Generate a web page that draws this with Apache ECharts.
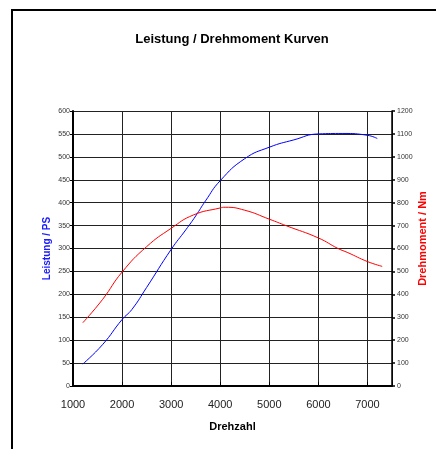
<!DOCTYPE html>
<html>
<head>
<meta charset="utf-8">
<script src="https://cdn.jsdelivr.net/npm/echarts@6/dist/echarts.min.js"></script>
<style>
  html, body { margin: 0; padding: 0; background: #fff; }
  #main { width: 436px; height: 449px; }
</style>
</head>
<body>
<div id="main"></div>
<script>
// Drehzahl (rpm) und Werte
var rpmPower = [1200, 1600, 2000, 2200, 2500, 3000, 3300, 3500, 3700, 4000, 4500, 5000, 5500, 6000, 6500, 7000, 7200];
var powerPS = [48, 90, 145, 167, 215, 298, 341, 371, 404, 448, 496, 521, 537, 550, 551, 547, 540];
var rpmTorque = [1200, 1600, 2000, 2500, 3000, 3450, 4000, 4100, 4500, 5000, 5350, 6000, 6400, 6600, 7000, 7300];
var torqueNm = [276, 377, 497, 608, 688, 746, 777, 780, 767, 728, 699, 646, 600, 582, 543, 522];
var xTicks = [1000, 2000, 3000, 4000, 5000, 6000, 7000];

function pairs(xs, ys) {
  return xs.map(function (x, i) { return [x, ys[i]]; });
}

var myChart = echarts.init(document.getElementById('main'));
var font = 'Liberation Sans, Arial, sans-serif';

var option = {
  animation: false,
  backgroundColor: '#fff',
  textStyle: { fontFamily: font },
  title: {
    text: 'Leistung / Drehmoment Kurven',
    left: 227,
    textAlign: 'center',
    top: 28,
    textStyle: { fontSize: 13, fontWeight: 'bold', color: '#000', fontFamily: font }
  },
  graphic: [{
    type: 'rect',
    shape: { x: 12, y: 10, width: 600, height: 600 },
    style: { fill: 'none', stroke: '#000', lineWidth: 2 }
  }],
  grid: { left: 73, right: 44, top: 111, bottom: 63, outerBoundsMode: 'none', containLabel: false },
  xAxis: {
    type: 'value',
    min: 1000,
    max: 7500,
    interval: 1000,
    name: 'Drehzahl',
    nameLocation: 'middle',
    nameGap: 35,
    nameTextStyle: { fontSize: 11, fontWeight: 'bold', color: '#000' },
    axisLine: { lineStyle: { color: '#000', width: 2 } },
    axisTick: { inside: true, length: 4, lineStyle: { color: '#000' } },
    axisLabel: {
      fontSize: 11, color: '#222', margin: 13,
      formatter: function (v) { return xTicks.indexOf(v) >= 0 ? String(v) : ''; }
    },
    splitLine: { show: true, lineStyle: { color: '#222', width: 1 } }
  },
  yAxis: [{
    type: 'value',
    min: 0,
    max: 600,
    interval: 50,
    position: 'left',
    name: 'Leistung / PS',
    nameLocation: 'middle',
    nameRotate: 90,
    nameGap: 21,
    nameMoveOverlap: false,
    nameTextStyle: { fontSize: 10, fontWeight: 'bold', color: '#1a1aff' },
    axisLine: { show: true, lineStyle: { color: '#000', width: 2 } },
    axisTick: { show: true, length: 3, lineStyle: { color: '#000' } },
    axisLabel: { fontSize: 7, color: '#333', margin: 3 },
    splitLine: { show: true, lineStyle: { color: '#222', width: 1 } }
  }, {
    type: 'value',
    min: 0,
    max: 1200,
    interval: 100,
    position: 'right',
    name: 'Drehmoment / Nm',
    nameLocation: 'middle',
    nameRotate: 90,
    nameGap: 25,
    nameMoveOverlap: false,
    nameTextStyle: { fontSize: 11, fontWeight: 'bold', color: '#ff0000', padding: [0, 0, 0, 20] },
    axisLine: { show: true, lineStyle: { color: '#000', width: 1.5 } },
    axisTick: { show: true, length: 3, lineStyle: { color: '#000', width: 1.5 } },
    axisLabel: { fontSize: 7, color: '#333', margin: 5, formatter: function (v) { return String(v); } },
    splitLine: { show: false }
  }],
  series: [{
    name: 'Leistung',
    type: 'line',
    yAxisIndex: 0,
    smooth: true,
    symbol: 'none',
    lineStyle: { color: '#0000ff', width: 1 },
    data: pairs(rpmPower, powerPS)
  }, {
    name: 'Drehmoment',
    type: 'line',
    yAxisIndex: 1,
    smooth: true,
    symbol: 'none',
    lineStyle: { color: '#ff0000', width: 1 },
    data: pairs(rpmTorque, torqueNm)
  }]
};

myChart.setOption(option);
</script>
</body>
</html>
